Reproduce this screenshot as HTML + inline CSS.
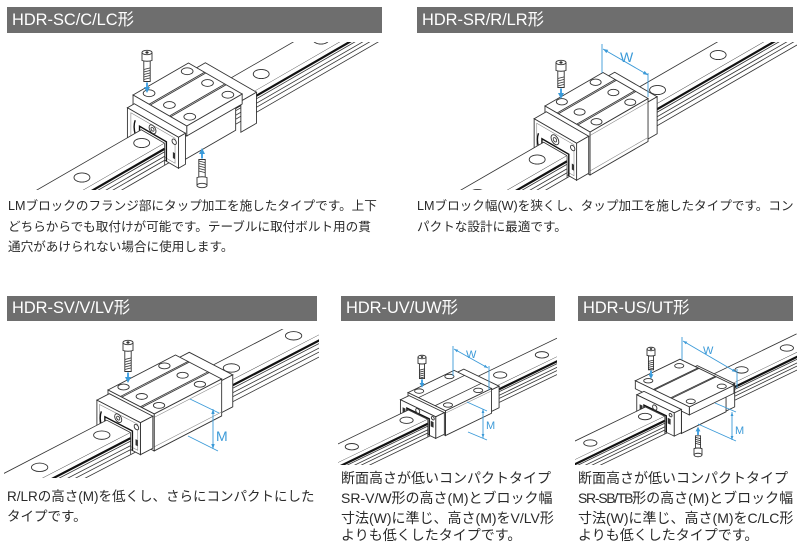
<!DOCTYPE html>
<html><head><meta charset="utf-8">
<style>
html,body{margin:0;padding:0;background:#fff;overflow:hidden;width:800px;height:543px;}
body{position:relative;font-family:"Liberation Sans","Noto Sans CJK JP",sans-serif;}
#wrap{position:absolute;left:0;top:0;width:800px;height:543px;overflow:hidden;}
.h{position:absolute;background:#6e6e6e;color:#fff;font-size:16.4px;padding-left:5px;box-sizing:border-box;white-space:nowrap;}
.t{position:absolute;white-space:nowrap;color:#2a2a2a;}
.s{position:absolute;white-space:nowrap;color:#2a2a2a;font-size:14px;line-height:16px;height:16px;}
svg{position:absolute;left:0;top:0;}
svg *{vector-effect:non-scaling-stroke;}
.f{fill:#fff;stroke:none;}
.w{fill:#fff;stroke:#333;stroke-width:.9;}
.l{fill:none;stroke:#333;stroke-width:.8;}
.g{fill:none;stroke:#888;stroke-width:.6;}
.k{fill:none;stroke:#111;stroke-width:2.2;}
.d{fill:none;stroke:#111;stroke-width:1.4;}
.b{fill:none;stroke:#3b9ad8;stroke-width:.9;}
.bf{fill:#3b9ad8;stroke:none;}
.ba{fill:none;stroke:#4aa6e6;stroke-width:2;}
.m{fill:#3b9ad8;font-family:"Liberation Sans",sans-serif;}
</style></head><body>
<div id="wrap">
<svg width="800" height="543" viewBox="0 0 800 543">
<defs>
<clipPath id="c1"><rect x="0" y="42" width="384" height="148"/></clipPath>
<clipPath id="c2"><rect x="400" y="42" width="397" height="148"/></clipPath>
<clipPath id="c3"><rect x="4" y="329" width="315" height="149"/></clipPath>
<clipPath id="c4"><rect x="338" y="327" width="219" height="138"/></clipPath>
<clipPath id="c5"><rect x="575" y="327" width="222" height="138"/></clipPath>
</defs>

<!-- ===== DIAGRAM 1 : HDR-SC/C/LC ===== -->
<g clip-path="url(#c1)">
<g transform="translate(148.2 125.75) matrix(.866 -.5 .866 .5 0 0)">
<rect class="f" x="-8" y="0" width="258" height="27"/>
<path class="l" d="M-8 0H250M-8 27H250"/>
<circle class="w" cx="48" cy="13.5" r="6.5"/><circle class="w" cx="117" cy="13.5" r="6.5"/><circle class="w" cx="186" cy="13.5" r="6.5"/>
<g transform="matrix(1 0 1 -1 0 27)"><rect class="f" x="-8" y="-22" width="258" height="22"/><path class="k" d="M-8 -5.5H250"/><path class="l" d="M-8 -8.5H250M-8 -13H250M-8 -17H250M-8 -22H250"/></g>
<g transform="translate(14 -14)"><rect class="w" x="64" y="-16" width="18" height="59"/></g>
<g transform="matrix(1 0 1 -1 0 43)"><rect class="w" x="64" y="-17" width="18" height="31"/></g>
<g transform="matrix(1 0 1 -1 0 37)"><rect class="w" x="0" y="-18" width="64" height="30"/></g>
<g transform="matrix(1 0 1 -1 0 44.5)"><rect class="w" x="0" y="12" width="64" height="10"/></g>
<g transform="translate(22 -22)"><rect class="w" x="0" y="-17.5" width="64" height="62"/><path class="l" d="M0 1H64M0 2.5H64M0 24.5H64M0 26H64"/>
<circle class="w" cx="11" cy="-10" r="4.8"/><circle class="w" cx="55" cy="-10" r="4.8"/><circle class="w" cx="11" cy="13.5" r="4.8"/><circle class="w" cx="55" cy="13.5" r="4.8"/><circle class="w" cx="11" cy="37" r="4.8"/><circle class="w" cx="55" cy="37" r="4.8"/></g>
<g transform="matrix(0 1 1 -1 0 0)"><rect class="w" x="-17.5" y="12" width="62" height="10"/><rect class="w" x="-10" y="-18" width="47" height="30"/></g>
<g transform="translate(14 -14)"><rect class="w" x="-8" y="-16" width="8" height="59"/></g>
<g transform="matrix(1 0 1 -1 0 43)"><rect class="w" x="-8" y="-17" width="8" height="31"/></g>
<g transform="matrix(0 1 1 -1 -8 0)"><rect class="w" x="-16" y="-17" width="59" height="31"/><rect class="g" x="-12" y="-14" width="51" height="25"/><path class="d" d="M-2 -17V2.5H29V-17"/><circle class="w" cx="13" cy="7" r="4"/><circle class="l" cx="13" cy="7" r="1.8"/><path class="d" d="M-7 -8Q-9.5 -1 -7 6"/><circle class="w" cx="38" cy="7" r="2.5"/><rect x="36.5" y="-10" width="2.5" height="6" fill="#333"/></g>
<rect class="f" x="-140" y="0" width="132" height="27"/>
<path class="l" d="M-140 0H-8V27M-140 27H-8"/>
<circle class="w" cx="-21" cy="13.5" r="6.5"/><circle class="w" cx="-90" cy="13.5" r="6.5"/>
<g transform="matrix(1 0 1 -1 0 27)"><rect class="f" x="-140" y="-22" width="132" height="22"/><path class="k" d="M-140 -5.5H-8"/><path class="l" d="M-140 -8.5H-8M-140 -13H-8M-140 -17H-8M-140 -22H-8M-8 0V-22"/></g>
</g></g>
<g transform="translate(147 50)">
<rect class="w" x="-3.2" y="11" width="6.4" height="20.5"/>
<path class="l" d="M-3.2 19.5l6.4-1.6M-3.2 22l6.4-1.6M-3.2 24.5l6.4-1.6M-3.2 27l6.4-1.6M-3.2 29.5l6.4-1.6"/>
<path class="w" d="M-5 2.5V10.5Q0 12 5 10.5V2.5"/><ellipse class="w" cx="0" cy="2.5" rx="5" ry="2.2"/>
<path d="M-1.8 2.5L-.9 1.4H.9L1.8 2.5L.9 3.6H-.9Z" fill="#333"/>
<path class="ba" d="M0 32.5V38"/><path class="bf" d="M-3 37H3L0 43Z"/>
</g>
<g transform="translate(202 188) scale(1 -1)">
<rect class="w" x="-3.2" y="11" width="6.4" height="17.5"/>
<path class="l" d="M-3.2 17l6.4-1.6M-3.2 19.5l6.4-1.6M-3.2 22l6.4-1.6M-3.2 24.5l6.4-1.6M-3.2 27l6.4-1.6"/>
<path class="w" d="M-5 2.5V10.5Q0 12 5 10.5V2.5"/><ellipse class="w" cx="0" cy="2.5" rx="5" ry="2.2"/>
<path class="ba" d="M0 29.5V35"/><path class="bf" d="M-3 34H3L0 40Z"/>
</g>

<!-- ===== DIAGRAM 2 : HDR-SR/R/LR ===== -->
<g clip-path="url(#c2)">
<g transform="translate(555.8 135.25) matrix(.866 -.5 .866 .5 0 0)">
<rect class="f" x="-14" y="0" width="268" height="27"/>
<path class="l" d="M-14 0H254M-14 27H254"/>
<circle class="w" cx="34" cy="13.5" r="6.5"/><circle class="w" cx="104" cy="13.5" r="6.5"/><circle class="w" cx="174" cy="13.5" r="6.5"/><circle class="w" cx="244" cy="13.5" r="6.5"/>
<g transform="matrix(1 0 1 -1 0 27)"><rect class="f" x="-14" y="-22" width="268" height="22"/><path class="k" d="M-14 -5.5H254"/><path class="l" d="M-14 -8.5H254M-14 -13H254M-14 -17H254M-14 -22H254"/></g>
<g transform="translate(18 -18)"><rect class="w" x="67" y="-11" width="12" height="49"/></g>
<g transform="matrix(1 0 1 -1 0 38)"><rect class="w" x="67" y="-19" width="12" height="37"/></g>
<g transform="matrix(1 0 1 -1 0 39.5)"><rect class="w" x="0" y="-20" width="67" height="43"/><path class="g" d="M0 19.5H67M0 -16H67"/></g>
<g transform="translate(23 -23)"><rect class="w" x="0" y="-12.5" width="67" height="52"/><path class="l" d="M0 1.5H67M0 3H67M0 24H67M0 25.5H67"/>
<circle class="w" cx="14" cy="-7" r="4.5"/><circle class="w" cx="53" cy="-7" r="4.5"/><circle class="w" cx="14" cy="13.5" r="4.5"/><circle class="w" cx="53" cy="13.5" r="4.5"/><circle class="w" cx="14" cy="33" r="4.5"/><circle class="w" cx="53" cy="33" r="4.5"/></g>
<g transform="matrix(0 1 1 -1 0 0)"><rect class="w" x="-12.5" y="-20" width="52" height="43"/></g>
<g transform="translate(18 -18)"><rect class="w" x="-14" y="-11" width="14" height="49"/></g>
<g transform="matrix(1 0 1 -1 0 38)"><rect class="w" x="-14" y="-19" width="14" height="37"/></g>
<g transform="matrix(0 1 1 -1 -14 0)"><rect class="w" x="-11" y="-19" width="49" height="37"/><rect class="g" x="-8" y="-16" width="43" height="31"/><path class="d" d="M-2 -19V2.5H29V-19"/><circle class="w" cx="13" cy="9" r="4.5"/><circle class="l" cx="13" cy="9" r="2"/><path class="d" d="M-6 -8Q-8.5 -1 -6 6"/><circle class="w" cx="33.5" cy="11" r="2.5"/><rect x="32.5" y="-11" width="2.5" height="6" fill="#333"/></g>
<rect class="f" x="-120" y="0" width="106" height="27"/>
<path class="l" d="M-120 0H-14V27M-120 27H-14"/>
<circle class="w" cx="-35" cy="13.5" r="6.5"/><circle class="w" cx="-104" cy="13.5" r="6.5"/>
<g transform="matrix(1 0 1 -1 0 27)"><rect class="f" x="-120" y="-22" width="106" height="22"/><path class="k" d="M-120 -5.5H-14"/><path class="l" d="M-120 -8.5H-14M-120 -13H-14M-120 -17H-14M-120 -22H-14M-14 0V-22"/></g>
</g></g>
<g transform="translate(561 60)">
<rect class="w" x="-3.2" y="11" width="6.4" height="16.5"/>
<path class="l" d="M-3.2 18.5l6.4-1.6M-3.2 21l6.4-1.6M-3.2 23.5l6.4-1.6M-3.2 26l6.4-1.6"/>
<path class="w" d="M-5 2.5V10.5Q0 12 5 10.5V2.5"/><ellipse class="w" cx="0" cy="2.5" rx="5" ry="2.2"/>
<path d="M-1.8 2.5L-.9 1.4H.9L1.8 2.5L.9 3.6H-.9Z" fill="#333"/>
<path class="ba" d="M0 28.5V34"/><path class="bf" d="M-3 33H3L0 39Z"/>
</g>
<path class="b" d="M602 44V73M648 73V97M603 49L648 75"/>
<path class="bf" d="M603 49L606.4 53.1L608.2 49.9ZM648 75L642.8 74.1L644.6 70.9Z"/>
<text class="m" x="620" y="62" font-size="14">W</text>

<!-- ===== DIAGRAM 3 : HDR-SV/V/LV ===== -->
<g clip-path="url(#c3)">
<g transform="translate(119.1 413.75) matrix(.888 -.46 .888 .46 0 0)">
<rect class="f" x="-14" y="0" width="234" height="27"/>
<path class="l" d="M-14 0H220M-14 27H220"/>
<circle class="w" cx="40" cy="13.5" r="6.5"/><circle class="w" cx="113" cy="13.5" r="6.5"/><circle class="w" cx="183" cy="13.5" r="6.5"/>
<g transform="matrix(1 0 1.087 -1.087 0 27)"><rect class="f" x="-14" y="-22" width="234" height="22"/><path class="k" d="M-14 -5.5H220"/><path class="l" d="M-14 -8.5H220M-14 -13H220M-14 -17H220M-14 -22H220"/></g>
<g transform="translate(16.3 -16.3)"><rect class="w" x="76" y="-11" width="14" height="49"/></g>
<g transform="matrix(1 0 1.087 -1.087 0 38)"><rect class="w" x="76" y="-17" width="14" height="32"/></g>
<g transform="matrix(1 0 1.087 -1.087 0 39.5)"><rect class="w" x="0" y="-19" width="76" height="37"/><path class="g" d="M0 14.5H76M0 -15H76"/></g>
<g transform="translate(19.57 -19.57)"><rect class="w" x="0" y="-12.5" width="76" height="52"/><path class="l" d="M0 1.5H76M0 3H76M0 24H76M0 25.5H76"/>
<circle class="w" cx="12" cy="-7" r="4.5"/><circle class="w" cx="58" cy="-7" r="4.5"/><circle class="w" cx="12" cy="13.5" r="4.5"/><circle class="w" cx="58" cy="13.5" r="4.5"/><circle class="w" cx="12" cy="33" r="4.5"/><circle class="w" cx="58" cy="33" r="4.5"/></g>
<g transform="matrix(0 1 1.087 -1.087 0 0)"><rect class="w" x="-12.5" y="-19" width="52" height="37"/></g>
<g transform="translate(16.3 -16.3)"><rect class="w" x="-14" y="-11" width="14" height="49"/></g>
<g transform="matrix(1 0 1.087 -1.087 0 38)"><rect class="w" x="-14" y="-17" width="14" height="32"/></g>
<g transform="matrix(0 1 1.087 -1.087 -14 0)"><rect class="w" x="-11" y="-17" width="49" height="32"/><rect class="g" x="-8" y="-14" width="43" height="26"/><path class="d" d="M-2 -17V2.5H29V-17"/><circle class="w" cx="13" cy="8" r="4"/><circle class="l" cx="13" cy="8" r="1.8"/><path class="d" d="M-6 -8Q-8.5 -1 -6 6"/><circle class="w" cx="33.5" cy="8.5" r="2.5"/><rect x="32.5" y="-10" width="2.5" height="6" fill="#333"/></g>
<rect class="f" x="-134" y="0" width="120" height="27"/>
<path class="l" d="M-134 0H-14V27M-134 27H-14"/>
<circle class="w" cx="-33" cy="13.5" r="6.5"/><circle class="w" cx="-103" cy="13.5" r="6.5"/>
<g transform="matrix(1 0 1.087 -1.087 0 27)"><rect class="f" x="-134" y="-22" width="120" height="22"/><path class="k" d="M-134 -5.5H-14"/><path class="l" d="M-134 -8.5H-14M-134 -13H-14M-134 -17H-14M-134 -22H-14M-14 0V-22"/></g>
</g></g>
<g transform="translate(128 340)">
<rect class="w" x="-3.2" y="11" width="6.4" height="20.5"/>
<path class="l" d="M-3.2 19.5l6.4-1.6M-3.2 22l6.4-1.6M-3.2 24.5l6.4-1.6M-3.2 27l6.4-1.6M-3.2 29.5l6.4-1.6"/>
<path class="w" d="M-5 2.5V10.5Q0 12 5 10.5V2.5"/><ellipse class="w" cx="0" cy="2.5" rx="5" ry="2.2"/>
<path d="M-1.8 2.5L-.9 1.4H.9L1.8 2.5L.9 3.6H-.9Z" fill="#333"/>
<path class="ba" d="M0 32.5V38"/><path class="bf" d="M-3 37H3L0 43Z"/>
</g>
<path class="b" d="M190 399L219 413M188 436L218 451M213 409V449"/>
<path class="bf" d="M213 409L211.3 414H214.7ZM213 449L211.3 444H214.7Z"/>
<text class="m" x="216" y="441" font-size="14">M</text>

<!-- ===== DIAGRAM 4 : HDR-UV/UW ===== -->
<g clip-path="url(#c4)">
<g transform="translate(417 405.8) scale(.8) matrix(.9 -.435 .9 .435 0 0)">
<rect class="f" x="-12" y="0" width="212" height="27"/>
<path class="l" d="M-12 0H200M-12 27H200"/>
<circle class="w" cx="40" cy="13.5" r="6.5"/><circle class="w" cx="102" cy="13.5" r="6.5"/><circle class="w" cx="160" cy="13.5" r="6.5"/>
<g transform="matrix(1 0 1.149 -1.149 0 27)"><rect class="f" x="-12" y="-22" width="212" height="22"/><path class="k" d="M-12 -5.5H200"/><path class="l" d="M-12 -8.5H200M-12 -13H200M-12 -17H200M-12 -22H200"/></g>
<g transform="translate(9.19 -9.19)"><rect class="w" x="64" y="-11" width="12" height="49"/></g>
<g transform="matrix(1 0 1.149 -1.149 0 38)"><rect class="w" x="64" y="-19" width="12" height="27"/></g>
<g transform="matrix(1 0 1.149 -1.149 0 39.5)"><rect class="w" x="0" y="-20" width="64" height="31"/><path class="g" d="M0 8H64"/></g>
<g transform="translate(12.64 -12.64)"><rect class="w" x="0" y="-12.5" width="64" height="52"/><path class="l" d="M0 2H64M0 25H64"/>
<circle class="w" cx="10" cy="-7" r="4.5"/><circle class="w" cx="52" cy="-7" r="4.5"/><circle class="w" cx="10" cy="33" r="4.5"/><circle class="w" cx="52" cy="33" r="4.5"/></g>
<g transform="matrix(0 1 1.149 -1.149 0 0)"><rect class="w" x="-12.5" y="-20" width="52" height="31"/></g>
<g transform="translate(9.19 -9.19)"><rect class="w" x="-12" y="-11" width="12" height="49"/></g>
<g transform="matrix(1 0 1.149 -1.149 0 38)"><rect class="w" x="-12" y="-19" width="12" height="27"/></g>
<g transform="matrix(0 1 1.149 -1.149 -12 0)"><rect class="w" x="-11" y="-19" width="49" height="27"/><path class="d" d="M-2 -19V1.5H29V-19"/><circle class="w" cx="13" cy="4.5" r="2.8"/><rect x="-8" y="-7" width="4" height="7" fill="#333"/><rect x="31" y="-7" width="4" height="7" fill="#333"/><circle class="w" cx="34" cy="4.5" r="2"/></g>
<rect class="f" x="-140" y="0" width="128" height="27"/>
<path class="l" d="M-140 0H-12V27M-140 27H-12"/>
<circle class="w" cx="-28" cy="13.5" r="6.5"/><circle class="w" cx="-104" cy="13.5" r="6.5"/>
<g transform="matrix(1 0 1.149 -1.149 0 27)"><rect class="f" x="-140" y="-22" width="128" height="22"/><path class="k" d="M-140 -5.5H-12"/><path class="l" d="M-140 -8.5H-12M-140 -13H-12M-140 -17H-12M-140 -22H-12M-12 0V-22"/></g>
</g></g>
<g transform="translate(422 355) scale(.8)">
<rect class="w" x="-3.2" y="11" width="6.4" height="18.5"/>
<path class="l" d="M-3.2 19l6.4-1.6M-3.2 21.5l6.4-1.6M-3.2 24l6.4-1.6M-3.2 26.5l6.4-1.6M-3.2 29l6.4-1.6"/>
<path class="w" d="M-5 2.5V10.5Q0 12 5 10.5V2.5"/><ellipse class="w" cx="0" cy="2.5" rx="5" ry="2.2"/>
<path d="M-1.8 2.5L-.9 1.4H.9L1.8 2.5L.9 3.6H-.9Z" fill="#333"/>
<path class="ba" d="M0 30.5V36"/><path class="bf" d="M-3 35H3L0 41Z"/>
</g>
<path class="b" d="M453 346V376M489 366V390M454 349L488 368M467 402L487 411M468 432L487 440M483 409V438"/>
<path class="bf" d="M454 349L456.8 352.3L458.2 349.7ZM488 368L483.8 367.3L485.2 364.7ZM483 409L481.6 413H484.4ZM483 438L481.6 434H484.4Z"/>
<text class="m" x="466" y="358" font-size="11">W</text>
<text class="m" x="486" y="429" font-size="11">M</text>

<!-- ===== DIAGRAM 5 : HDR-US/UT ===== -->
<g clip-path="url(#c5)">
<g transform="translate(652.6 403.5) scale(.8) matrix(.9 -.435 .9 .435 0 0)">
<rect class="f" x="-10" y="0" width="187" height="27"/>
<path class="l" d="M-10 0H200M-10 27H177"/>
<circle class="w" cx="40" cy="13.5" r="6.5"/><circle class="w" cx="110" cy="13.5" r="6.5"/><circle class="w" cx="173" cy="13.5" r="6.5"/>
<g transform="matrix(1 0 1.149 -1.149 0 27)"><rect class="f" x="-10" y="-22" width="187" height="22"/><path class="k" d="M-10 -5.5H177"/><path class="l" d="M-10 -8.5H177M-10 -13H177M-10 -17H177M-10 -22H177"/></g>
<g transform="translate(11.49 -11.49)"><rect class="w" x="62" y="-12" width="12" height="52"/></g>
<g transform="matrix(1 0 1.149 -1.149 0 40)"><rect class="w" x="62" y="-19" width="12" height="29"/><rect class="w" x="0" y="-20" width="62" height="28"/></g>
<g transform="matrix(1 0 1.149 -1.149 0 51)"><rect class="w" x="0" y="8" width="62" height="10"/></g>
<g transform="translate(20.68 -20.68)"><rect class="w" x="0" y="-24" width="62" height="75"/><path class="l" d="M0 1H62M0 2.5H62M0 25H62M0 26.5H62"/>
<circle class="w" cx="9" cy="-15" r="4.5"/><circle class="w" cx="52" cy="-15" r="4.5"/><circle class="w" cx="9" cy="44" r="4.5"/><circle class="w" cx="52" cy="44" r="4.5"/></g>
<g transform="matrix(0 1 1.149 -1.149 0 0)"><rect class="w" x="-24" y="8" width="75" height="10"/><rect class="w" x="-12" y="-20" width="52" height="28"/></g>
<g transform="translate(11.49 -11.49)"><rect class="w" x="-10" y="-12" width="10" height="52"/></g>
<g transform="matrix(1 0 1.149 -1.149 0 40)"><rect class="w" x="-10" y="-19" width="10" height="29"/></g>
<g transform="matrix(0 1 1.149 -1.149 -10 0)"><rect class="w" x="-12" y="-19" width="52" height="29"/><path class="d" d="M-2 -19V1.5H29V-19"/><circle class="w" cx="13" cy="5" r="3"/><rect x="-8" y="-7" width="4" height="7" fill="#333"/><rect x="31" y="-7" width="4" height="7" fill="#333"/><circle class="w" cx="35" cy="5" r="2"/></g>
<rect class="f" x="-142" y="0" width="132" height="27"/>
<path class="l" d="M-142 0H-10V27M-142 27H-10"/>
<circle class="w" cx="-24" cy="13.5" r="6.5"/><circle class="w" cx="-100" cy="13.5" r="6.5"/>
<g transform="matrix(1 0 1.149 -1.149 0 27)"><rect class="f" x="-142" y="-22" width="132" height="22"/><path class="k" d="M-142 -5.5H-10"/><path class="l" d="M-142 -8.5H-10M-142 -13H-10M-142 -17H-10M-142 -22H-10M-10 0V-22"/></g>
</g></g>
<g transform="translate(651 347) scale(.8)">
<rect class="w" x="-3.2" y="11" width="6.4" height="17.5"/>
<path class="l" d="M-3.2 18l6.4-1.6M-3.2 20.5l6.4-1.6M-3.2 23l6.4-1.6M-3.2 25.5l6.4-1.6M-3.2 28l6.4-1.6"/>
<path class="w" d="M-5 2.5V10.5Q0 12 5 10.5V2.5"/><ellipse class="w" cx="0" cy="2.5" rx="5" ry="2.2"/>
<path d="M-1.8 2.5L-.9 1.4H.9L1.8 2.5L.9 3.6H-.9Z" fill="#333"/>
<path class="ba" d="M0 29.5V35"/><path class="bf" d="M-3 34H3L0 40Z"/>
</g>
<g transform="translate(698 457) scale(.8 -.8)">
<rect class="w" x="-3.2" y="11" width="6.4" height="15.5"/>
<path class="l" d="M-3.2 17l6.4-1.6M-3.2 19.5l6.4-1.6M-3.2 22l6.4-1.6M-3.2 24.5l6.4-1.6"/>
<path class="w" d="M-5 2.5V10.5Q0 12 5 10.5V2.5"/><ellipse class="w" cx="0" cy="2.5" rx="5" ry="2.2"/>
<path class="ba" d="M0 27.5V33"/><path class="bf" d="M-3 32H3L0 38Z"/>
</g>
<path class="b" d="M682 337V360M737 369V388M683 341L736 372M715 403L736 412M698 424L736 441M732 412V440"/>
<path class="bf" d="M683 341L685.7 344.3L687.3 341.7ZM736 372L731.7 371.3L733.3 368.7ZM732 412L730.6 416H733.4ZM732 440L730.6 436H733.4Z"/>
<text class="m" x="703" y="354" font-size="11">W</text>
<text class="m" x="735" y="434" font-size="11">M</text>
</svg>

<div class="h" style="left:7px;top:7px;width:375px;height:26px;line-height:26px">HDR-SC/C/LC形</div>
<div class="h" style="left:417px;top:7px;width:376px;height:26px;line-height:26px">HDR-SR/R/LR形</div>
<div class="h" style="left:7px;top:296px;width:310px;height:25px;line-height:25px">HDR-SV/V/LV形</div>
<div class="h" style="left:341px;top:296px;width:214px;height:25px;line-height:25px">HDR-UV/UW形</div>
<div class="h" style="left:578px;top:296px;width:215px;height:25px;line-height:25px">HDR-US/UT形</div>

<div class="t" style="left:8px;top:196px;font-size:12.6px;line-height:20.5px">LMブロックのフランジ部にタップ加工を施したタイプです。上下<br>どちらからでも取付けが可能です。テーブルに取付ボルト用の貫<br>通穴があけられない場合に使用します。</div>
<div class="t" style="left:417px;top:196px;font-size:12.6px;line-height:20.5px">LMブロック幅(W)を狭くし、タップ加工を施したタイプです。コン<br>パクトな設計に最適です。</div>
<div class="t" style="left:7px;top:487px;font-size:13.5px;line-height:20px">R/LRの高さ(M)を低くし、さらにコンパクトにした<br>タイプです。</div>

<div class="s" style="left:341px;top:470px">断面高さが低いコンパクトタイプ</div>
<div class="s" style="left:341px;top:490px">SR-V/W形の高さ(M)とブロック幅</div>
<div class="s" style="left:341px;top:510px">寸法(W)に準じ、高さ(M)をV/LV形</div>
<div class="s" style="left:341px;top:527px">よりも低くしたタイプです。</div>

<div class="s" style="left:578px;top:470px">断面高さが低いコンパクトタイプ</div>
<div class="s" style="left:578px;top:490px"><span style="letter-spacing:-1.3px">SR-SB/TB</span>形の高さ(M)とブロック幅</div>
<div class="s" style="left:578px;top:510px">寸法(W)に準じ、高さ(M)をC/LC形</div>
<div class="s" style="left:578px;top:527px">よりも低くしたタイプです。</div>
</div>
</body></html>
